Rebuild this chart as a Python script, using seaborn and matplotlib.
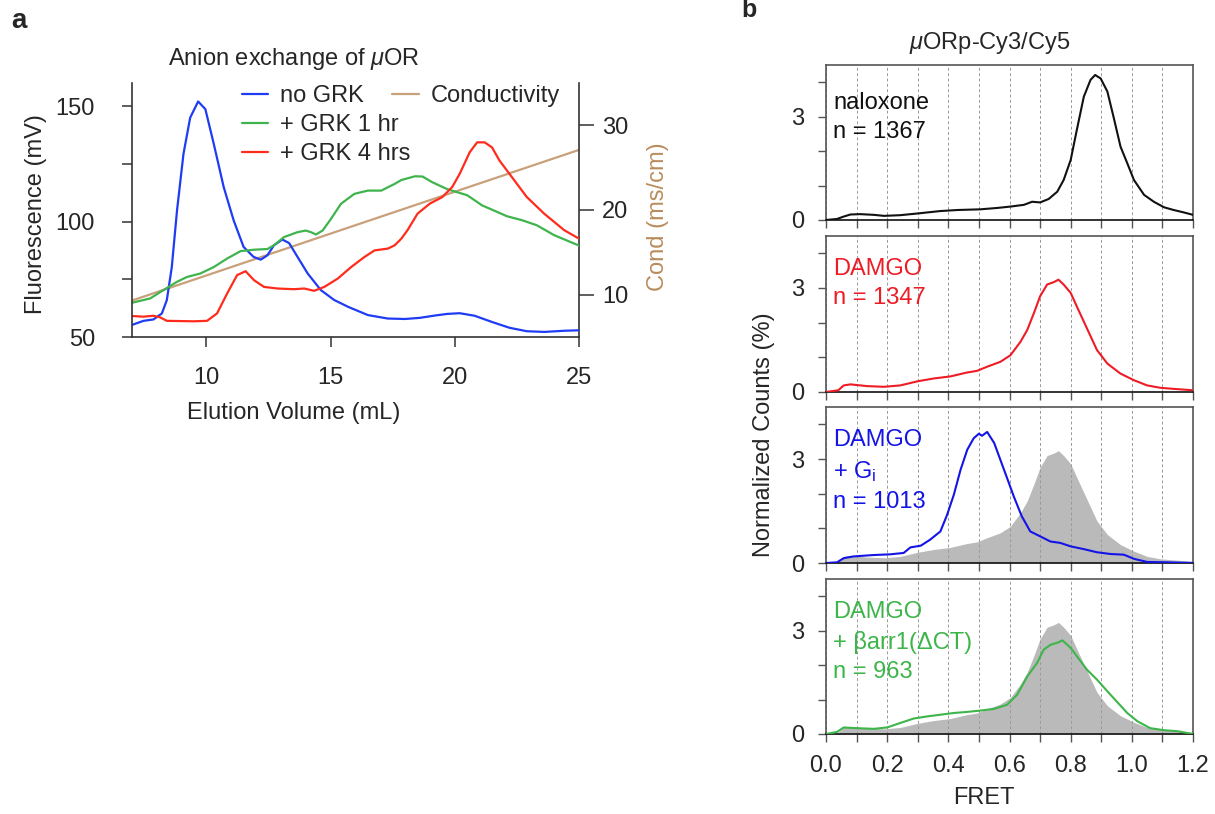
import matplotlib
matplotlib.use("Agg")
import matplotlib.pyplot as plt
import seaborn as sns
import numpy as np
from matplotlib.lines import Line2D

# ---------------- data: anion exchange chromatograms ----------------
no_grk_ml = [7.0, 7.47, 7.87, 8.21, 8.41, 8.61, 8.82, 9.08, 9.35, 9.67, 9.96, 10.3, 10.7,
             11.1, 11.5, 11.9, 12.19, 12.46, 12.72, 13.06, 13.33, 13.67, 14.08, 14.61,
             15.15, 15.7, 16.5, 17.3, 18.0, 18.6, 19.2, 19.7, 20.2, 20.8, 21.5, 22.2,
             22.9, 23.6, 24.4, 25.0]
no_grk_mv = [55.2, 57.0, 57.6, 60.2, 66.0, 80.3, 104.8, 129.3, 145.0, 152.0, 148.7, 133.6,
             114.9, 100.5, 89.0, 84.7, 83.5, 85.4, 89.7, 92.2, 90.7, 84.7, 77.5, 70.3, 66.0,
             63.1, 59.5, 58.0, 57.8, 58.3, 59.3, 60.0, 60.3, 59.2, 56.5, 54.0, 52.5, 52.2,
             52.7, 52.9]

grk1_ml = [7.0, 7.74, 8.27, 8.82, 9.22, 9.76, 10.3, 10.84, 11.38, 11.92, 12.46, 12.72,
           13.13, 13.67, 14.0, 14.21, 14.41, 14.68, 15.02, 15.42, 15.96, 16.5, 17.04,
           17.58, 17.85, 18.4, 18.7, 19.1, 19.7, 20.5, 21.1, 21.7, 22.1, 22.7, 23.3, 24.0,
           25.0]
grk1_mv = [64.8, 66.7, 70.3, 73.9, 76.0, 77.5, 80.3, 84.0, 87.2, 87.8, 88.1, 89.7, 93.3,
           95.4, 96.1, 95.4, 94.4, 96.1, 101.2, 107.7, 112.0, 113.4, 113.4, 116.3, 118.0,
           119.6, 119.5, 117.0, 114.0, 111.4, 107.0, 104.2, 102.3, 100.6, 98.4, 94.1, 89.6]

grk4_ml = [7.0, 7.47, 7.87, 8.14, 8.41, 8.95, 9.49, 10.03, 10.43, 10.84, 11.24, 11.58,
           11.92, 12.32, 12.86, 13.53, 13.94, 14.34, 14.75, 15.29, 15.83, 16.37, 16.77,
           17.31, 17.58, 17.85, 18.1, 18.5, 19.0, 19.5, 19.9, 20.2, 20.6, 20.9, 21.2, 21.5,
           21.8, 22.4, 22.9, 23.6, 24.4, 25.0]
grk4_mv = [59.1, 58.8, 59.2, 58.5, 57.0, 56.9, 56.8, 57.0, 60.2, 68.9, 76.8, 78.5, 74.6,
           71.7, 71.0, 70.7, 71.0, 70.0, 71.7, 75.3, 80.3, 84.7, 87.5, 88.3, 89.7, 92.6,
           96.3, 103.4, 107.8, 110.6, 115.0, 120.7, 130.0, 134.3, 134.3, 132.1, 126.4,
           117.8, 110.6, 103.4, 96.3, 92.6]

cond_ml = [7.0, 25.0]
cond_ms_cm = [9.3, 27.1]

# ---------------- data: smFRET histograms ----------------
fret_naloxone = [0.0, 0.036, 0.058, 0.08, 0.112, 0.156, 0.19, 0.243, 0.3, 0.374, 0.43, 0.505,
                 0.56, 0.603, 0.647, 0.674, 0.70, 0.728, 0.756, 0.777, 0.80, 0.82, 0.843,
                 0.865, 0.88, 0.898, 0.92, 0.94, 0.963, 0.985, 1.007, 1.04, 1.072, 1.105,
                 1.137, 1.17, 1.2]
counts_naloxone = [0.0, 0.03, 0.10, 0.16, 0.17, 0.15, 0.12, 0.14, 0.19, 0.26, 0.29, 0.31,
                   0.35, 0.39, 0.44, 0.53, 0.51, 0.61, 0.82, 1.16, 1.74, 2.61, 3.58, 4.07,
                   4.21, 4.11, 3.73, 3.00, 2.13, 1.65, 1.16, 0.73, 0.53, 0.37, 0.29, 0.22,
                   0.15]

fret_damgo = [0.0, 0.04, 0.058, 0.08, 0.134, 0.19, 0.243, 0.3, 0.352, 0.407, 0.46, 0.494,
              0.527, 0.57, 0.603, 0.636, 0.658, 0.68, 0.70, 0.723, 0.745, 0.76, 0.777, 0.80,
              0.82, 0.853, 0.886, 0.92, 0.963, 1.007, 1.05, 1.094, 1.137, 1.2]
counts_damgo = [0.0, 0.05, 0.19, 0.22, 0.17, 0.15, 0.19, 0.31, 0.39, 0.45, 0.56, 0.61, 0.73,
                0.87, 1.06, 1.45, 1.79, 2.28, 2.76, 3.10, 3.17, 3.24, 3.10, 2.86, 2.47, 1.84,
                1.21, 0.82, 0.53, 0.34, 0.19, 0.12, 0.09, 0.05]

fret_gi = [0.0, 0.036, 0.058, 0.09, 0.156, 0.21, 0.254, 0.276, 0.31, 0.34, 0.374, 0.396,
           0.418, 0.44, 0.462, 0.483, 0.5, 0.51, 0.527, 0.55, 0.57, 0.59, 0.614, 0.64, 0.668,
           0.70, 0.734, 0.766, 0.8, 0.843, 0.886, 0.93, 0.974, 1.007, 1.05, 1.116, 1.2]
counts_gi = [0.0, 0.02, 0.14, 0.19, 0.23, 0.25, 0.29, 0.45, 0.50, 0.67, 0.91, 1.39, 1.97,
             2.69, 3.27, 3.60, 3.73, 3.67, 3.78, 3.46, 2.98, 2.50, 1.92, 1.35, 0.91, 0.77,
             0.62, 0.58, 0.48, 0.40, 0.31, 0.26, 0.24, 0.12, 0.03, 0.02, 0.0]

fret_barr = [0.0, 0.036, 0.058, 0.1, 0.156, 0.2, 0.243, 0.287, 0.33, 0.374, 0.418, 0.46,
             0.505, 0.55, 0.592, 0.625, 0.658, 0.69, 0.712, 0.734, 0.76, 0.773, 0.8, 0.82,
             0.853, 0.886, 0.92, 0.95, 0.985, 1.018, 1.06, 1.105, 1.15, 1.2]
counts_barr = [0.0, 0.06, 0.19, 0.17, 0.15, 0.19, 0.32, 0.45, 0.51, 0.56, 0.61, 0.64, 0.68,
               0.73, 0.85, 1.14, 1.67, 2.06, 2.45, 2.59, 2.66, 2.72, 2.50, 2.26, 1.87, 1.58,
               1.24, 0.95, 0.61, 0.37, 0.17, 0.11, 0.08, 0.0]

legend_a = ["no GRK", "+ GRK 1 hr", "+ GRK 4 hrs", "Conductivity"]
fret_ticklabels = ["0.0", "", "0.2", "", "0.4", "", "0.6", "", "0.8", "", "1.0", "", "1.2"]
panel_text = ["naloxone\nn = 1367", "DAMGO\nn = 1347", "DAMGO\n+ G$_\\mathrm{i}$\nn = 1013",
              "DAMGO\n+ βarr1(ΔCT)\nn = 963"]

# ---------------- style ----------------
sns.set_theme(style="ticks")
plt.rcParams["font.family"] = ["Liberation Sans", "DejaVu Sans"]
plt.rcParams["mathtext.fontset"] = "custom"
plt.rcParams["mathtext.rm"] = "Liberation Sans"
plt.rcParams["mathtext.it"] = "Liberation Sans:italic"
plt.rcParams["mathtext.bf"] = "Liberation Sans:bold"

FS = 17
BLUE_A, GREEN_A, RED_A, TAN = "#1f3cf5", "#3fb44c", "#ff2b1c", "#c8a07a"
TAN_TEXT = "#b98c5c"
BLACK_B, RED_B, BLUE_B, GREEN_B = "#111111", "#ee1c25", "#1414e6", "#3db54a"
FILL = "#bababa"

W, H = 1215, 814
fig = plt.figure(figsize=(W / 100, H / 100), dpi=100)


def axes_px(left, top, right, bottom):
    return fig.add_axes([left / W, 1 - bottom / H, (right - left) / W, (bottom - top) / H])


# ---------------- panel a ----------------
ax = axes_px(131.8, 83, 579, 337)
ax2 = ax.twinx()
ax.set_zorder(ax2.get_zorder() + 1)
ax.patch.set_visible(False)

sns.lineplot(x=cond_ml, y=cond_ms_cm, ax=ax2, color=TAN, lw=1.6, sort=False)
sns.lineplot(x=no_grk_ml, y=no_grk_mv, ax=ax, color=BLUE_A, lw=1.6, sort=False)
sns.lineplot(x=grk1_ml, y=grk1_mv, ax=ax, color=GREEN_A, lw=1.6, sort=False)
sns.lineplot(x=grk4_ml, y=grk4_mv, ax=ax, color=RED_A, lw=1.6, sort=False)

ax.set_xlim(7, 25)
ax.set_ylim(50, 160)
ax2.set_ylim(5, 35)
ax.set_xticks([10, 15, 20, 25])
ax.set_yticks([50, 75, 100, 125, 150])
ax.set_yticklabels(["50", "", "100", "", "150"])
ax2.set_yticks([10, 20, 30])
ax.set_xlabel("")
ax.set_ylabel("")
ax2.set_ylabel("")
spine_c = "#333333"
for a in (ax, ax2):
    a.spines["top"].set_visible(False)
    for s in a.spines.values():
        s.set_color(spine_c)
        s.set_linewidth(1.2)
ax.spines["right"].set_visible(False)
ax2.spines["left"].set_visible(False)
ax2.spines["bottom"].set_visible(False)
ax.tick_params(axis="y", length=7.5, width=1.1, pad=19, labelsize=FS, color=spine_c)
ax.tick_params(axis="x", length=7.5, width=1.1, pad=14, labelsize=FS, color=spine_c)
ax2.tick_params(axis="y", length=10.5, width=1.1, pad=6, labelsize=FS, color=spine_c)

h = [Line2D([], [], color=c, lw=1.6) for c in (BLUE_A, GREEN_A, RED_A)]
leg1 = ax.legend(h, legend_a[:3], loc="upper left", bbox_to_anchor=(241.7 / W, 1 - 85 / H),
                 bbox_transform=fig.transFigure, frameon=False, fontsize=FS, borderpad=0,
                 borderaxespad=0, handlelength=1.13, handletextpad=0.5, labelspacing=0.3)
ax.add_artist(leg1)
ax.legend([Line2D([], [], color=TAN, lw=1.6)], legend_a[3:], loc="upper left",
          bbox_to_anchor=(392 / W, 1 - 85 / H), bbox_transform=fig.transFigure,
          frameon=False, fontsize=FS, borderpad=0, borderaxespad=0, handlelength=1.13,
          handletextpad=0.5)

fig.text(294 / W, 1 - 59 / H, "Anion exchange of $\\mathit{μ}$OR", ha="center", va="center",
         fontsize=FS)
fig.text(36 / W, 1 - 214 / H, "Fluorescence (mV)", rotation=90, ha="center", va="center",
         fontsize=FS)
fig.text(658 / W, 1 - 217 / H, "Cond (ms/cm)", rotation=90, ha="center", va="center",
         fontsize=FS, color=TAN_TEXT)
fig.text(294 / W, 1 - 413 / H, "Elution Volume (mL)", ha="center", va="center", fontsize=FS)

# ---------------- panel b ----------------
rows = [(65, 220), (236, 392), (407, 563), (579, 734)]
series = [(fret_naloxone, counts_naloxone, BLACK_B), (fret_damgo, counts_damgo, RED_B),
          (fret_gi, counts_gi, BLUE_B), (fret_barr, counts_barr, GREEN_B)]
text_top = [26.7, 22, 22, 22]
frame_c = "#555555"
fret_ticks = np.round(np.arange(0, 1.21, 0.1), 1)

for i, ((top, bottom), (fx, fy, col)) in enumerate(zip(rows, series)):
    axb = axes_px(826, top, 1193, bottom)
    if i >= 2:
        axb.fill_between(fret_damgo, 0, counts_damgo, color=FILL, lw=0, zorder=0.3)
    sns.lineplot(x=fx, y=fy, ax=axb, color=col, lw=1.5, sort=False, zorder=3)
    axb.set_xlim(0, 1.2)
    axb.set_ylim(0, 4.5)
    axb.set_xticks(fret_ticks)
    axb.set_xticklabels(fret_ticklabels if i == 3 else [""] * len(fret_ticks))
    axb.set_yticks([0, 1, 2, 3, 4])
    axb.set_yticklabels(["0", "", "", "3", ""])
    axb.set_xlabel("")
    axb.set_ylabel("")
    axb.set_axisbelow(True)
    axb.grid(axis="x", color="#999999", linestyle=(0, (3, 2.5)), linewidth=0.7)
    for name, s in axb.spines.items():
        s.set_visible(True)
        s.set_linewidth(1.2)
        s.set_color("#111111" if name == "bottom" else frame_c)
    axb.tick_params(length=6, width=1.0, labelsize=FS, color=frame_c)
    axb.tick_params(axis="y", pad=10)
    axb.tick_params(axis="x", pad=9)
    axb.text(0.019, 1 - text_top[i] / (bottom - top), panel_text[i], transform=axb.transAxes,
             ha="left", va="top", fontsize=FS, color=col, linespacing=1.42)

fig.text(990 / W, 1 - 43 / H, "$\\mathit{μ}$ORp-Cy3/Cy5", ha="center", va="center", fontsize=FS)
fig.text(764 / W, 1 - 435 / H, "Normalized Counts (%)", rotation=90, ha="center", va="center",
         fontsize=FS)
fig.text(984 / W, 1 - 798 / H, "FRET", ha="center", va="center", fontsize=FS)

fig.text(18.5 / W, 1 - 28 / H, "a", ha="center", va="baseline", fontsize=20, fontweight="bold")
fig.text(749 / W, 1 - 17 / H, "b", ha="center", va="baseline", fontsize=18, fontweight="bold")

fig.savefig("out.png", dpi=100)
